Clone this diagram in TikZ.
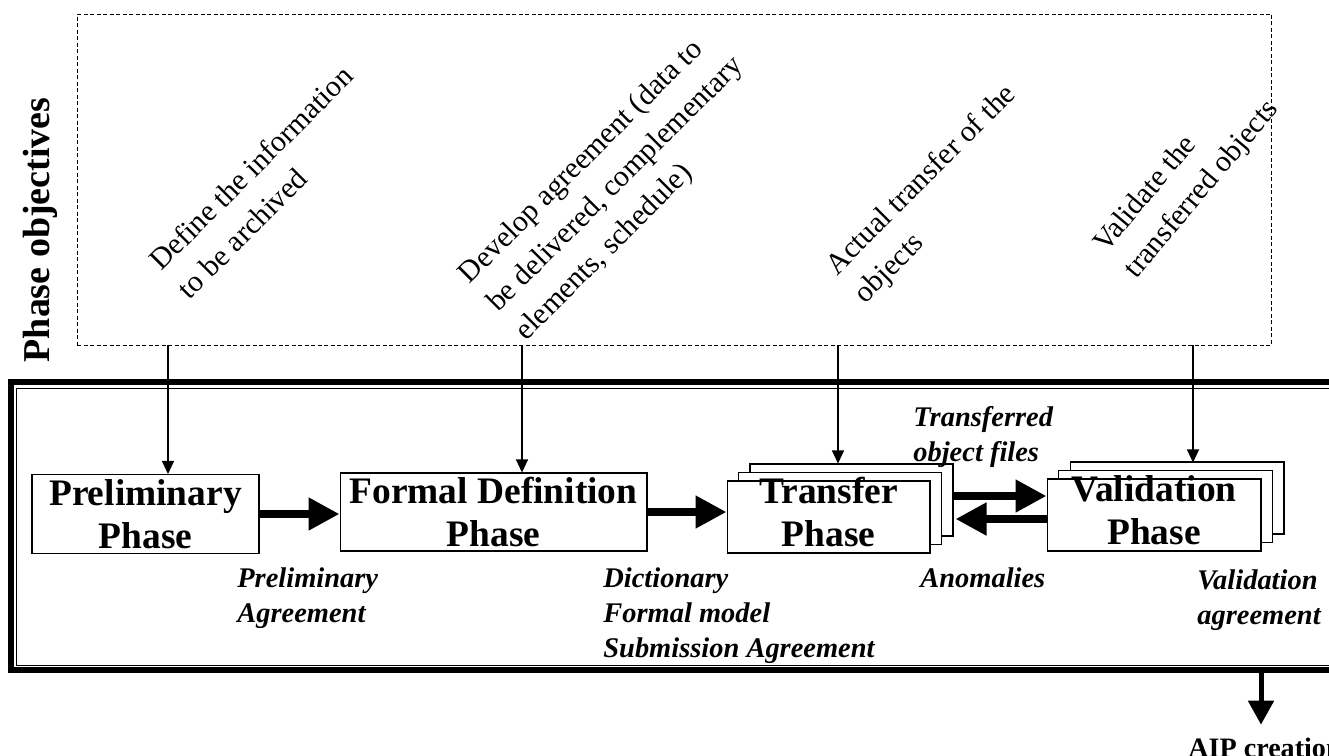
\documentclass[tikz,border=0pt]{standalone}
\usepackage{fontspec}
\setmainfont{Liberation Serif}
\usetikzlibrary{arrows.meta, calc, shadows}

\begin{document}
\begin{tikzpicture}[x=0.02cm, y=-0.02cm,
    phase/.style={draw=black, line width=0.6pt, fill=white, inner sep=0pt, align=center,
        font=\fontsize{21.3}{24.5}\selectfont\bfseries},
    stacked/.style={phase, text height=1.3cm, text depth=0.12cm,
        double copy shadow={shadow xshift=0.23cm, shadow yshift=0.17cm}},
    output/.style={anchor=base west, align=left, inner sep=0pt,
        font=\fontsize{16.2}{19.9}\selectfont\bfseries\itshape},
    goal/.style={rotate=45, align=left, inner sep=0pt, font=\fontsize{17}{22.8}\selectfont},
    thinarrow/.style={-{Triangle[length=0.26cm, width=0.24cm]}, line width=0.6pt},
    bigarrow/.style={-{Triangle[length=0.62cm, width=0.62cm]}, line width=0.16cm}]
    \useasboundingbox (0,0) rectangle (1329,755);

    \node[draw, line width=0.5pt, dash pattern=on 0.08cm off 0.05cm, inner sep=0pt,
        minimum width=23.9cm, minimum height=6.62cm] (objectives) at (674.5,179.5) {};
    \node[rotate=90, inner sep=0pt, font=\fontsize{21.6}{24}\selectfont\bfseries] (title) at (40,230) {Phase objectives};

    \node[goal] (goal1) at (265,182) {Define the information\\to be archived};
    \node[goal] (goal2) at (616,185) {Develop agreement (data to\\be delivered, complementary\\elements, schedule)};
    \node[goal] (goal3) at (936,195) {Actual transfer of the\\objects};
    \node[goal, rotate=5] (goal4) at (1187,177) {Validate the\\transferred objects};

    \node[draw, line width=0.12cm, inner sep=0pt, outer sep=0pt, minimum width=26.98cm, minimum height=5.76cm] (frame) at (685.4,526) {};
    \draw[line width=0.5pt] ($(frame.north west)+(5.3,6.3)$) rectangle ($(frame.south east)+(-5,-5)$);

    \node[phase, minimum width=4.54cm, minimum height=1.58cm] (prelim) at (145.5,514) {Preliminary\\Phase};
    \node[phase, minimum width=6.14cm, minimum height=1.56cm] (formal) at (493.5,512) {Formal Definition\\Phase};
    \node[stacked, minimum width=4.06cm, minimum height=1.44cm] (transfer) at (828.5,517) {Transfer\\Phase};
    \node[stacked, minimum width=4.28cm, minimum height=1.44cm] (validation) at (1154,515) {Validation\\Phase};

    \foreach \x [count=\i] in {168,522,838,1193}
        \coordinate (o\i) at (objectives.south -| \x,0);
    \draw[thinarrow] (o1) -- (o1 |- prelim.north);
    \draw[thinarrow] (o2) -- (o2 |- formal.north);
    \draw[thinarrow] (o3) -- ($(o3 |- transfer.north)+(0,-17)$);
    \draw[thinarrow] (o4) -- ($(o4 |- validation.north)+(0,-16)$);

    \coordinate (t1) at ($(transfer.east)+(23,-21)$);
    \coordinate (v1) at ($(validation.west)+(0,4)$);
    \draw[bigarrow] (prelim.east) -- (prelim.east -| formal.west);
    \draw[bigarrow] (formal.east) -- (formal.east -| transfer.west);
    \draw[bigarrow] (t1) -- (t1 -| validation.west);
    \draw[bigarrow] (v1) -- ($(v1 -| transfer.east)+(25,0)$);

    \node[output] (prelimout) at (237,622) {Preliminary\\Agreement};
    \node[output] (formalout) at (603,657) {Dictionary\\Formal model\\Submission Agreement};
    \node[output] (fileout) at (913,461) {Transferred\\object files};
    \node[output] (anomout) at (920,587) {Anomalies};
    \node[output] (validout) at (1197,624) {Validation\\agreement};

    \node[anchor=base west, inner sep=0pt, font=\fontsize{16}{19}\selectfont\bfseries] (aip) at (1188,757) {AIP creation};
    \coordinate (down) at (frame.south -| 1261,0);
    \draw[-{Triangle[length=0.48cm, width=0.5cm]}, line width=0.1cm, shorten >=0.25cm] (down) -- (down |- aip.north);
\end{tikzpicture}
\end{document}
